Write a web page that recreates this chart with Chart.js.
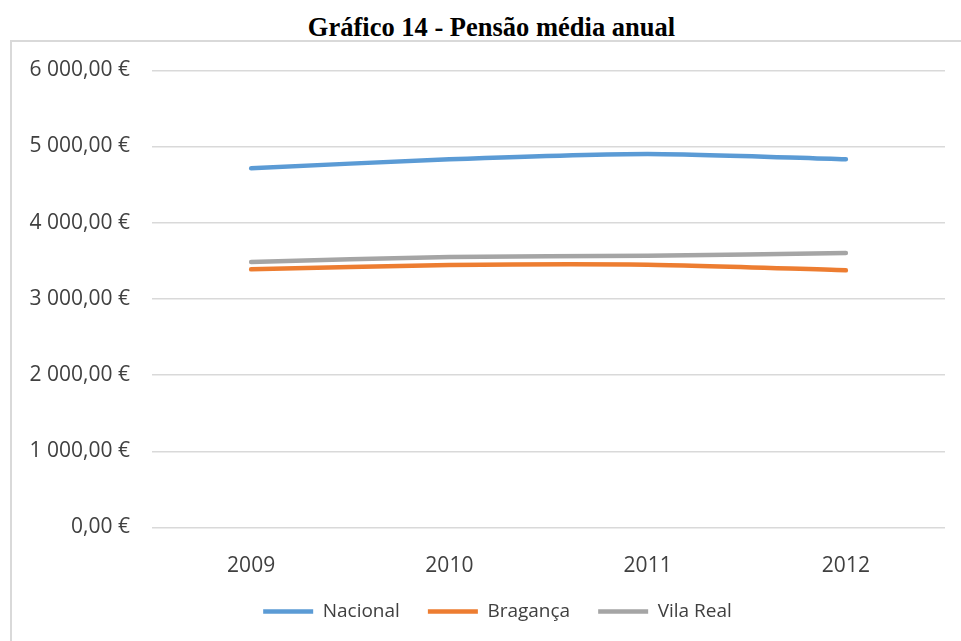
<!DOCTYPE html>
<html>
<head>
<meta charset="utf-8">
<script src="https://cdn.jsdelivr.net/npm/chart.js@4/dist/chart.umd.min.js"></script>
<style>
  body { margin: 0; background: #fff; width: 961px; height: 641px; overflow: hidden; position: relative; }
  #title {
    position: absolute; left: 0; top: 14px; width: 983px;
    text-align: center; font: bold 26.5px/26px "Liberation Serif", "Times New Roman", serif; color: #000;
  }
  #frame {
    position: absolute; left: 10px; top: 40px; width: 980px; height: 640px;
    border: 2px solid #d9d9d9; box-sizing: border-box;
  }
  #wrap { position: absolute; left: 12px; top: 42px; width: 971px; height: 599px; }
</style>
</head>
<body>
<div id="title">Gráfico 14 - Pensão média anual</div>
<div id="frame"></div>
<div id="wrap"><canvas id="pension_chart"></canvas></div>
<script>
const years = ['2009', '2010', '2011', '2012'];
const nacional = [4714, 4832, 4902, 4832];
const braganca = [3388, 3445, 3449, 3375];
const vilaReal = [3484, 3550, 3567, 3602];
const seriesNames = ['Nacional', 'Bragança', 'Vila Real'];
const yTicks = [0, 1000, 2000, 3000, 4000, 5000, 6000];

const textColor = '#404040';

function formatEuro(value) {
    const parts = Number(value).toFixed(2).split('.');
    const intPart = parts[0].replace(/\B(?=(\d{3})+(?!\d))/g, ' ');
    return intPart + ',' + parts[1] + ' €';
}

function makeLine(label, data, color) {
    return {
        label: label,
        data: data,
        borderColor: color,
        backgroundColor: color,
        borderWidth: 4.5,
        borderCapStyle: 'round',
        borderJoinStyle: 'round',
        pointRadius: 0,
        pointHoverRadius: 0,
        pointStyle: 'line',
        tension: 0.25,
        fill: false
    };
}

// legend is centred on the whole frame, not on the padded canvas
const centerLegend = {
    id: 'centerLegend',
    afterLayout(chart) {
        const lg = chart.legend;
        const shift = 19;
        lg.left += shift;
        lg.right += shift;
    }
};

const ctx = document.getElementById('pension_chart').getContext('2d');

new Chart(ctx, {
    type: 'line',
    data: {
        labels: years,
        datasets: [
            makeLine(seriesNames[0], nacional, '#5B9BD5'),
            makeLine(seriesNames[1], braganca, '#ED7D31'),
            makeLine(seriesNames[2], vilaReal, '#A5A5A5')
        ]
    },
    plugins: [centerLegend],
    options: {
        responsive: true,
        maintainAspectRatio: false,
        animation: false,
        layout: {
            padding: { left: 0, right: 38, top: 28.3, bottom: 10 }
        },
        plugins: {
            title: { display: false },
            tooltip: { enabled: false },
            legend: {
                position: 'bottom',
                labels: {
                    usePointStyle: true,
                    pointStyle: 'line',
                    pointStyleWidth: 50,
                    padding: 28,
                    color: textColor,
                    font: { family: '"Open Sans", sans-serif', size: 19 }
                }
            }
        },
        scales: {
            x: {
                offset: true,
                grid: { display: false },
                border: { display: false },
                ticks: {
                    padding: 18,
                    color: textColor,
                    font: { family: '"Open Sans", sans-serif', size: 21 }
                },
                afterFit: function(scale) { scale.height = 46.5; }
            },
            y: {
                min: 0,
                max: 6000,
                afterBuildTicks: function(scale) {
                    scale.ticks = yTicks.map(v => ({ value: v }));
                },
                // invisible tick marks keep the labels 22px off the plot
                grid: { color: '#d9d9d9', lineWidth: 1.5, drawTicks: true, tickLength: 22, tickColor: 'rgba(0,0,0,0)' },
                border: { display: false },
                ticks: {
                    padding: 0,
                    color: textColor,
                    font: { family: '"Open Sans", sans-serif', size: 21 },
                    callback: function(value) { return formatEuro(value); }
                },
                afterFit: function(scale) { scale.width = 140; }
            }
        }
    }
});
</script>
</body>
</html>
